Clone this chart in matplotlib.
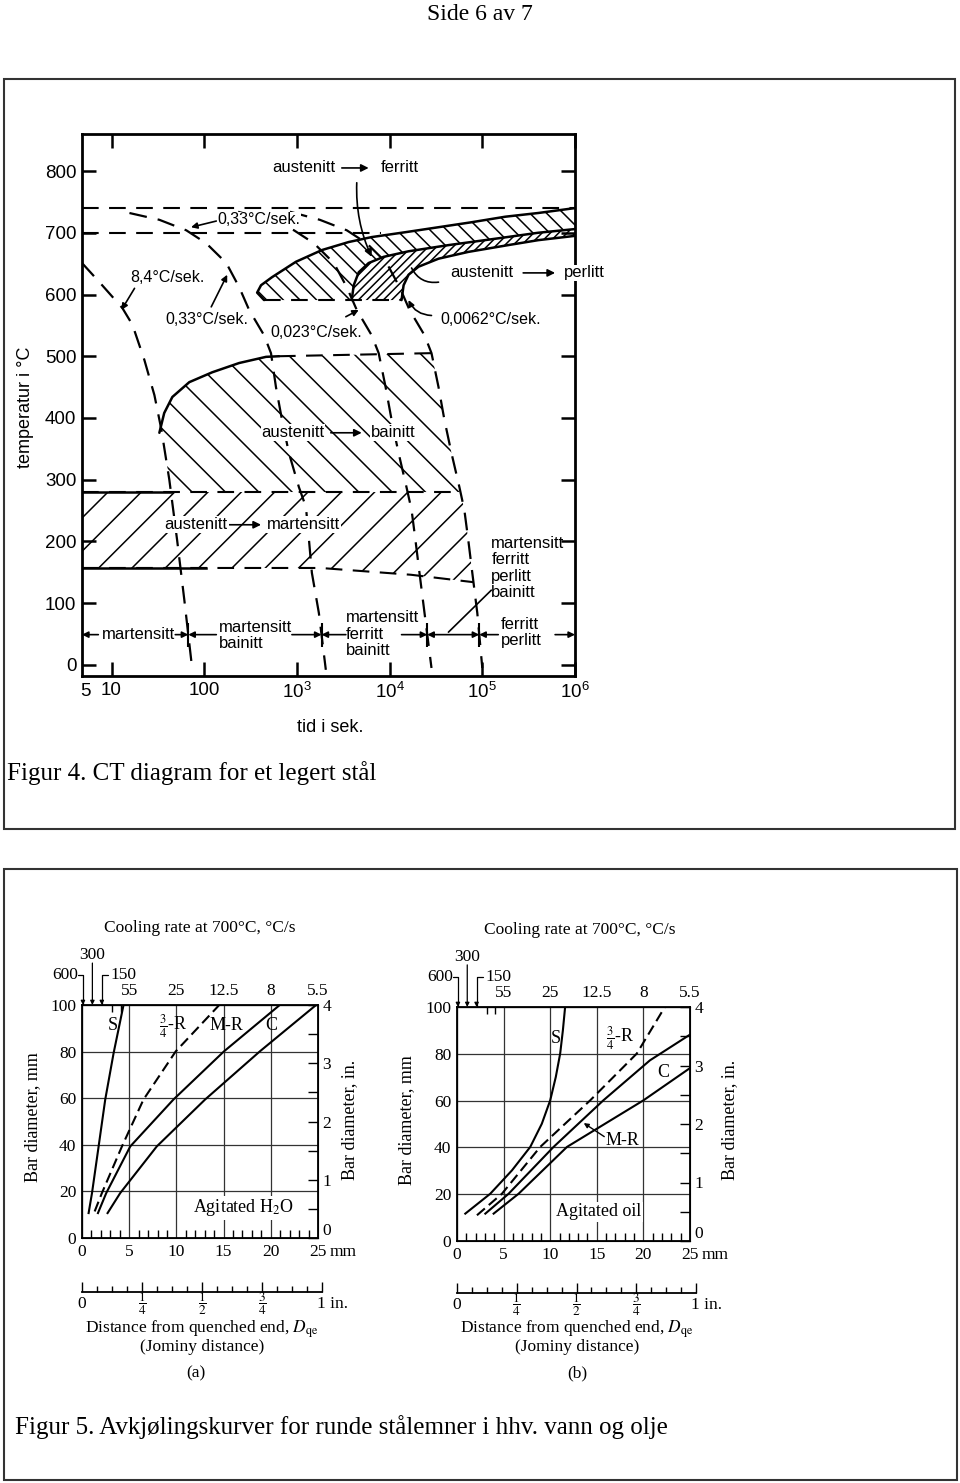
import matplotlib
matplotlib.use("Agg")
import matplotlib.pyplot as plt
import numpy as np
from matplotlib.patches import Rectangle
from matplotlib.ticker import MultipleLocator, NullLocator

W, H = 960, 1483
SANS = ["Liberation Sans", "DejaVu Sans"]
SERIF = ["Liberation Serif", "DejaVu Serif"]

plt.rcParams["mathtext.fontset"] = "custom"
plt.rcParams["mathtext.rm"] = "Liberation Sans"
plt.rcParams["mathtext.it"] = "Liberation Sans:italic"
plt.rcParams["mathtext.bf"] = "Liberation Sans:bold"
plt.rcParams["hatch.linewidth"] = 1.1

# ---------------- Figur 4: CT diagram (time in s, temperature in degC) ----------------
time_ticks = [10, 100, 1e3, 1e4, 1e5, 1e6]
time_tick_labels = ["10", "100", "$10^3$", "$10^4$", "$10^5$", "$10^6$"]
temp_ticks = [0, 100, 200, 300, 400, 500, 600, 700, 800]

ae3_temp = 740
a1_temp = 700
a1_end_time = 8000
upper_floor_temp = 591

ferrite_start_time = [442, 372, 410, 538, 975, 1860, 3620, 6400, 14900, 33700, 76200, 176600, 400000, 1e6]
ferrite_start_temp = [591, 603, 615, 628, 653, 672, 685, 693, 701, 709, 717, 726, 732, 740]
pearlite_start_time = [3900, 4100, 4640, 5940, 8610, 16000, 43100, 148600, 400000, 1e6]
pearlite_start_temp = [591, 615, 636, 651, 661, 670, 680, 691, 700, 706]
pearlite_end_time = [13450, 14150, 16000, 20500, 33700, 70600, 190000, 400000, 1e6]
pearlite_end_temp = [591, 615, 632, 645, 658, 669, 680, 688, 695]

bainite_start_time = [32.8, 37, 45.3, 69, 122, 238, 464, 640]
bainite_start_temp = [376, 408, 434, 458, 474, 489, 499, 500]
bainite_top_temp = 505

ms_temp = 280
mf_time = [4.8, 1800, 17000, 80000]
mf_temp = [157, 157, 146, 134]

cool_84_time = [4.8, 7.4, 13.1, 16.8, 22.6, 29, 34.5, 42, 51, 61, 74]
cool_84_temp = [651, 620, 578, 551, 494, 437, 381, 300, 202, 105, -5]
cool_033_time = [15.6, 32.8, 64, 105, 173, 238, 305, 442, 525, 594, 690, 820, 1050, 1250, 1350, 1450, 1725, 2050]
cool_033_temp = [732, 721, 704, 683, 651, 612, 575, 534, 505, 450, 397, 343, 288, 256, 202, 149, 84, -8]
cool_0023_time = [232, 476, 929, 1525, 2500, 3450, 4420, 6400, 7620, 9050, 10500, 12500, 15200, 17250, 19000, 21000, 23800, 28300]
cool_0023_temp = [734, 721, 704, 683, 651, 612, 575, 534, 505, 450, 397, 343, 288, 251, 202, 149, 84, -5]
cool_0062_time = [841, 1766, 3450, 5660, 9290, 12800, 16400, 23800, 28300, 33700, 39000, 46500, 56600, 64000, 70600, 78000, 88300, 100000]
cool_0062_temp = [734, 721, 704, 683, 651, 612, 575, 534, 505, 450, 397, 343, 288, 251, 202, 149, 84, -5]

rate_labels = ["8,4°C/sek.", "0,33°C/sek.", "0,33°C/sek.", "0,023°C/sek.", "0,0062°C/sek."]
phase_from = ["austenitt", "austenitt", "austenitt", "austenitt"]
phase_to = ["ferritt", "perlitt", "bainitt", "martensitt"]
product_labels = ["martensitt", "martensitt\nbainitt", "martensitt\nferritt\nbainitt",
                  "martensitt\nferritt\nperlitt\nbainitt", "ferritt\nperlitt"]
product_temp = 49

# ---------------- Figur 5: Jominy equivalence (distance mm, bar diameter mm) ----------------
dist_ticks = [0, 5, 10, 15, 20, 25]
diam_ticks = [0, 20, 40, 60, 80, 100]
inch_ticks = [0, 1, 2, 3, 4]
rate_top_labels = ["55", "25", "12.5", "8", "5.5"]
fast_rate_labels = ["600", "300", "150"]
fast_rate_dist = [0.1, 1.1, 2.1]
top_small_ticks = [3.2, 4.1]
ruler_ticks = [0, 0.25, 0.5, 0.75, 1]
ruler_labels = ["0", r"$\dfrac{1}{4}$", r"$\dfrac{1}{2}$", r"$\dfrac{3}{4}$", "1 in."]

water_s_dist = [0.7, 1.06, 1.76, 2.46, 3.35, 4.4]
water_s_diam = [10.7, 19.3, 39.3, 59.4, 79.4, 100]
water_34r_dist = [1.34, 2.11, 4.23, 6.51, 9.93, 14.54]
water_34r_diam = [11.4, 19.3, 39.3, 59.4, 80.1, 100]
water_mr_dist = [1.69, 2.57, 5.11, 9.68, 15.04, 20.95]
water_mr_diam = [10.7, 19.3, 39.3, 59.4, 80.1, 100]
water_c_dist = [2.71, 4.05, 7.92, 13.03, 18.84, 24.8]
water_c_diam = [10.7, 19.3, 39.3, 59.4, 80.1, 100]

oil_s_dist = [0.89, 3.57, 5.9, 7.86, 9.1, 10.0, 10.6, 11.07, 11.36, 11.6]
oil_s_diam = [11.7, 20.2, 30.2, 40.2, 50.1, 60.1, 70.1, 80.1, 90, 100]
oil_34r_dist = [2.14, 4.82, 8.93, 14.29, 19.29, 22.3]
oil_34r_diam = [11, 20.2, 40.2, 60.1, 80.1, 100]
oil_mr_dist = [3.04, 5.54, 10.36, 15.7, 20.7, 25.0]
oil_mr_diam = [11.7, 20.2, 40.2, 60.1, 77.2, 88.2]
oil_c_dist = [3.93, 6.61, 11.8, 20.0, 25.0]
oil_c_diam = [11.7, 20.2, 40.2, 60.1, 73.9]

DASH = (0, (8, 5))


def px(x, y):
    return x / W, 1 - y / H


def temp_to_time(times, temps, temp):
    times = np.asarray(times, float)
    temps = np.asarray(temps, float)
    return 10 ** np.interp(temp, temps[::-1], np.log10(times)[::-1])


def curve_slice(times, temps, hi, lo):
    times = np.asarray(times, float)
    temps = np.asarray(temps, float)
    keep = (temps < hi) & (temps > lo)
    t = np.r_[temp_to_time(times, temps, hi), times[keep], temp_to_time(times, temps, lo)]
    T = np.r_[hi, temps[keep], lo]
    return t, T


def arrow(ax, tail, head, style="-|>", lw=1.2, ms=10, conn="arc3"):
    ax.annotate("", xy=head, xytext=tail, annotation_clip=False,
                arrowprops=dict(arrowstyle=style, color="k", lw=lw, mutation_scale=ms,
                                shrinkA=0, shrinkB=0, connectionstyle=conn))


fig = plt.figure(figsize=(W / 100, H / 100), dpi=100)

# page furniture
fig.text(*px(480, 14), "Side 6 av 7", ha="center", va="center", fontsize=17, family=SERIF)
fig.add_artist(Rectangle(px(4, 829), 951 / W, 750 / H, transform=fig.transFigure,
                         fill=False, lw=1.5, ec="#333333"))
fig.add_artist(Rectangle(px(4, 1480), 953 / W, 611 / H, transform=fig.transFigure,
                         fill=False, lw=1.5, ec="#333333"))
fig.text(*px(7, 773), "Figur 4. CT diagram for et legert stål", ha="left", va="center",
         fontsize=18, family=SERIF)
fig.text(*px(15, 1427), "Figur 5. Avkjølingskurver for runde stålemner i hhv. vann og olje",
         ha="left", va="center", fontsize=18, family=SERIF)

# ---------------- CT diagram ----------------
ax = fig.add_axes([82 / W, 1 - 676 / H, 493 / W, 542 / H])
ax.set_xscale("log")
ax.set_xlim(4.8, 1e6)
ax.set_ylim(-18, 860)
for s in ax.spines.values():
    s.set_linewidth(2)
ax.set_xticks(time_ticks)
ax.set_xticklabels(time_tick_labels)
ax.xaxis.set_minor_locator(NullLocator())
ax.set_yticks(temp_ticks)
ax.tick_params(which="major", direction="in", length=10, width=1.8, top=True, right=True,
               labelsize=13.5, pad=4)
for lab in ax.get_xticklabels() + ax.get_yticklabels():
    lab.set_family(SANS)
ax.text(5.2, -0.012, "5", transform=ax.get_xaxis_transform(), ha="center", va="top",
        fontsize=13.5, family=SANS)
fig.text(*px(25, 407), "temperatur i °C", rotation=90, ha="center", va="center",
         fontsize=13, family=SANS)
fig.text(*px(330, 728), "tid i sek.", ha="center", va="center", fontsize=13, family=SANS)

cooling = [(cool_84_time, cool_84_temp), (cool_033_time, cool_033_temp),
           (cool_0023_time, cool_0023_temp), (cool_0062_time, cool_0062_temp)]
c1_t, c1_T = cooling[0]
c4_t, c4_T = cooling[3]

# hatched regions
fer_t = list(ferrite_start_time) + pearlite_start_time[::-1]
fer_T = list(ferrite_start_temp) + pearlite_start_temp[::-1]
ax.fill(fer_t, fer_T, facecolor="none", edgecolor="k", lw=0, hatch="\\\\", zorder=1)
per_t = list(pearlite_start_time) + pearlite_end_time[::-1]
per_T = list(pearlite_start_temp) + pearlite_end_temp[::-1]
ax.fill(per_t, per_T, facecolor="none", edgecolor="k", lw=0, hatch="////", zorder=1)

b4_t, b4_T = curve_slice(c4_t, c4_T, bainite_top_temp, ms_temp)
b1_t, b1_T = curve_slice(c1_t, c1_T, bainite_start_temp[0], ms_temp)
bai_t = np.r_[bainite_start_time, b4_t, b1_t[::-1]]
bai_T = np.r_[bainite_start_temp, b4_T, b1_T[::-1]]
ax.fill(bai_t, bai_T, facecolor="none", edgecolor="k", lw=0, hatch="\\", zorder=1)

m4_t, m4_T = curve_slice(c4_t, c4_T, ms_temp, mf_temp[-1])
ms_t = np.r_[mf_time[0], m4_t, mf_time[::-1][1:]]
ms_T = np.r_[ms_temp, m4_T, mf_temp[::-1][1:]]
ax.fill(ms_t, ms_T, facecolor="none", edgecolor="k", lw=0, hatch="/", zorder=1)

# lines
ax.plot([4.8, 1e6], [ae3_temp, ae3_temp], color="k", lw=1.5, ls=DASH)
ax.plot([4.8, a1_end_time], [a1_temp, a1_temp], color="k", lw=1.5, ls=DASH)
ax.plot([ferrite_start_time[0], pearlite_end_time[0]], [upper_floor_temp] * 2, color="k", lw=1.5, ls=DASH)
for t, T in [(ferrite_start_time, ferrite_start_temp), (pearlite_start_time, pearlite_start_temp),
             (pearlite_end_time, pearlite_end_temp), (bainite_start_time, bainite_start_temp)]:
    ax.plot(t, T, color="k", lw=1.8, solid_capstyle="round")
ax.plot([bainite_start_time[-1], b4_t[0]], [bainite_start_temp[-1], bainite_top_temp], color="k", lw=1.5, ls=DASH)
ms_end = temp_to_time(c4_t, c4_T, ms_temp)
ms_solid_end = temp_to_time(c1_t, c1_T, ms_temp)
ax.plot([4.8, ms_end], [ms_temp, ms_temp], color="k", lw=1.5, ls=DASH)
ax.plot([4.8, ms_solid_end], [ms_temp, ms_temp], color="k", lw=1.8)
ax.plot(mf_time, mf_temp, color="k", lw=1.5, ls=DASH)
ax.plot([4.8, 105], [mf_temp[0], mf_temp[0]], color="k", lw=1.8)
for t, T in cooling:
    ax.plot(t, T, color="k", lw=1.6, ls=DASH)

box = dict(fc="white", ec="none", pad=0.6)
kw = dict(fontsize=12, family=SANS, va="center", zorder=4)

# phase transformation labels
phase_pos = [(1190, 12800, 3050, 5940, 805), (100000, 1.26e6, 276000, 610000, 635),
             (905, 11000, 2320, 5000, 376), (82, 1190, 186, 410, 227)]
for a, b, (t0, t1, a0, a1, T) in zip(phase_from, phase_to, phase_pos):
    ax.text(t0, T, a, ha="center", bbox=box, **kw)
    ax.text(t1, T, b, ha="center", bbox=box, clip_on=False, **kw)
    arrow(ax, (a0, T), (a1, T), ms=11)
arrow(ax, (4420, 781), (6400, 661), conn="arc3,rad=0.12", ms=11)
arrow(ax, (33700, 620), (17250, 643), style="-", conn="arc3,rad=-0.35")

# cooling rate labels
rate_pos = [(40, 628), (390, 721), (108, 560), (1600, 538), (122000, 559)]
rate_arrows = [((17.7, 610), (12.8, 575), "arc3"), ((135, 719), (72, 709), "arc3"),
               ((119, 580), (177, 632), "arc3"), ((3370, 564), (4640, 575), "arc3"),
               ((28300, 566), (16000, 591), "arc3,rad=-0.3")]
for lab, (t, T), (tail, head, conn) in zip(rate_labels, rate_pos, rate_arrows):
    ax.text(t, T, lab, ha="center", fontsize=11.5, family=SANS, va="center", bbox=box, zorder=4)
    arrow(ax, tail, head, conn=conn, ms=9)

# end products along the bottom
bounds = [temp_to_time(t, T, product_temp) for t, T in cooling]
ax.vlines(bounds, 29, 68, color="k", lw=1.5)
segs = [(7.2, 4.8), (48.7, bounds[0]), (135, bounds[0]), (883, bounds[1]), (3370, bounds[1]),
        (13450, bounds[2]), (148600, bounds[3]), (610000, 1e6)]
for tail, head in segs:
    arrow(ax, (tail, product_temp), (head, product_temp), ms=9)
arrow(ax, (bounds[2], product_temp), (bounds[3], product_temp), style="<|-|>", ms=9)
arrow(ax, (43100, 53), (125000, 121), style="-")
product_pos = [(19.5, 49, "center"), (145, 47, "left"), (3370, 50, "left"),
               (125000, 157, "left"), (160000, 53, "left")]
for lab, (t, T, ha) in zip(product_labels, product_pos):
    ax.text(t, T, lab, ha=ha, linespacing=1.1, **kw)


# ---------------- Jominy panels ----------------
def jominy(rect, ruler_rect, curves, labels, medium, medium_pos, leader, texts, tag):
    jx = fig.add_axes(rect)
    jx.set_xlim(0, 25)
    jx.set_ylim(0, 100)
    for s in jx.spines.values():
        s.set_linewidth(1.3)
    jx.set_xticks(dist_ticks)
    jx.set_yticks(diam_ticks)
    jx.grid(True, color="#333333", lw=0.9)
    jx.tick_params(which="major", length=0, labelsize=12.5, pad=4)
    jx.xaxis.set_minor_locator(MultipleLocator(1))
    jx.yaxis.set_minor_locator(NullLocator())
    jx.tick_params(which="minor", direction="in", length=6, width=1, bottom=True, top=False)
    for lab in jx.get_xticklabels() + jx.get_yticklabels():
        lab.set_family(SERIF)
    jx.text(1.05, -0.06, "mm", transform=jx.transAxes, ha="left", va="center",
            fontsize=12.5, family=SERIF)

    rx = jx.twinx()
    rx.set_ylim(0, 4)
    rx.set_yticks(inch_ticks)
    rx.set_yticklabels([""] + [str(v) for v in inch_ticks[1:]])
    rx.yaxis.set_minor_locator(MultipleLocator(0.5))
    rx.tick_params(which="both", direction="in", length=7, width=1, labelsize=12.5, pad=3)
    for lab in rx.get_yticklabels():
        lab.set_family(SERIF)
    rx.text(1.02, 0.03, str(inch_ticks[0]), transform=rx.transAxes, ha="left", va="center",
            fontsize=12.5, family=SERIF)

    for x, lab in zip(dist_ticks[1:], rate_top_labels):
        jx.text(x, 102.5, lab, ha="center", va="bottom", fontsize=12.5, family=SERIF)
    jx.vlines(top_small_ticks, 97, 100, color="k", lw=1)
    jx.text(-0.4, 113, fast_rate_labels[0], ha="right", va="center", fontsize=12.5, family=SERIF)
    jx.annotate("", xy=(fast_rate_dist[0], 100), xytext=(-0.4, 113), annotation_clip=False,
                arrowprops=dict(arrowstyle="-|>", lw=0.9, color="k", mutation_scale=6, shrinkA=0,
                                shrinkB=0, connectionstyle="angle,angleA=0,angleB=90,rad=0"))
    jx.text(fast_rate_dist[1], 118, fast_rate_labels[1], ha="center", va="bottom", fontsize=12.5,
            family=SERIF)
    arrow(jx, (fast_rate_dist[1], 118), (fast_rate_dist[1], 100), lw=0.9, ms=6)
    jx.text(3.0, 113, fast_rate_labels[2], ha="left", va="center", fontsize=12.5, family=SERIF)
    jx.annotate("", xy=(fast_rate_dist[2], 100), xytext=(2.8, 113), annotation_clip=False,
                arrowprops=dict(arrowstyle="-|>", lw=0.9, color="k", mutation_scale=6, shrinkA=0,
                                shrinkB=0, connectionstyle="angle,angleA=0,angleB=90,rad=0"))

    for (d, b, dashed) in curves:
        jx.plot(d, b, color="k", lw=1.5, ls=(0, (5, 2.5)) if dashed else "-", zorder=3)
    for lab, x, y in labels:
        jx.text(x, y, lab, ha="center", va="center", fontsize=13, family=SERIF,
                math_fontfamily="stix", zorder=4)
    jx.text(*medium_pos, medium, ha="center", va="center", fontsize=13, family=SERIF,
            math_fontfamily="stix", bbox=dict(fc="white", ec="none", pad=1), zorder=4)
    if leader is not None:
        arrow(jx, leader[0], leader[1], lw=1, ms=7)

    ru = fig.add_axes(ruler_rect)
    ru.set_xlim(0, 1)
    ru.set_ylim(0, 1)
    ru.patch.set_visible(False)
    for k in ("top", "left", "right"):
        ru.spines[k].set_visible(False)
    ru.spines["bottom"].set_linewidth(1.3)
    ru.set_yticks([])
    ru.set_xticks(ruler_ticks)
    ru.set_xticklabels([])
    ru.xaxis.set_minor_locator(MultipleLocator(1 / 16))
    ru.tick_params(which="major", direction="in", length=7, width=1)
    ru.tick_params(which="minor", direction="in", length=4, width=1)
    for x, lab in zip(ruler_ticks, ruler_labels):
        frac = lab.startswith("$")
        shift = 0.045 if lab.endswith("in.") else 0
        ru.text(x + shift, -0.58, lab, transform=ru.get_xaxis_transform(), ha="center",
                va="center", fontsize=9.5 if frac else 12.5, family=SERIF, math_fontfamily="stix")

    (mm_xy, in_xy, title_xy, dist_xy, jom_xy, tag_xy) = texts
    fig.text(*px(*mm_xy), "Bar diameter, mm", rotation=90, ha="center", va="center",
             fontsize=13, family=SERIF)
    fig.text(*px(*in_xy), "Bar diameter, in.", rotation=90, ha="center", va="center",
             fontsize=13, family=SERIF)
    fig.text(*px(*title_xy), "Cooling rate at 700°C, °C/s", ha="center", va="center",
             fontsize=12.5, family=SERIF)
    fig.text(*px(*dist_xy), r"Distance from quenched end, $D_{\mathrm{qe}}$", ha="center",
             va="center", fontsize=12.5, family=SERIF, math_fontfamily="stix")
    fig.text(*px(*jom_xy), "(Jominy distance)", ha="center", va="center", fontsize=12.5, family=SERIF)
    fig.text(*px(*tag_xy), tag, ha="center", va="center", fontsize=12.5, family=SERIF)


frac_r = r"$\frac{3}{4}$-R"
jominy([82 / W, 1 - 1238 / H, 236 / W, 233 / H], [82 / W, 1 - 1292 / H, 240 / W, 20 / H],
       [(water_s_dist, water_s_diam, False), (water_34r_dist, water_34r_diam, True),
        (water_mr_dist, water_mr_diam, False), (water_c_dist, water_c_diam, False)],
       [("S", 3.3, 91.2), (frac_r, 9.7, 91), ("M-R", 15.3, 91), ("C", 20.1, 91)],
       r"Agitated H$_2$O", (17.1, 12.9), None,
       [(33, 1117), (350, 1120), (200, 928), (202, 1329), (202, 1347), (196, 1373)], "(a)")
jominy([457 / W, 1 - 1241 / H, 233 / W, 234 / H], [457 / W, 1 - 1293 / H, 239 / W, 20 / H],
       [(oil_s_dist, oil_s_diam, False), (oil_34r_dist, oil_34r_diam, True),
        (oil_mr_dist, oil_mr_diam, False), (oil_c_dist, oil_c_diam, False)],
       [("S", 10.6, 86.5), (frac_r, 17.5, 86.5), ("C", 22.1, 72.2), ("M-R", 17.8, 43)],
       "Agitated oil", (15.2, 12.4), ((15.8, 44.6), (13.6, 50.4)),
       [(407, 1120), (730, 1120), (580, 930), (577, 1329), (577, 1347), (577, 1373)], "(b)")

fig.savefig("out.png", dpi=100)
